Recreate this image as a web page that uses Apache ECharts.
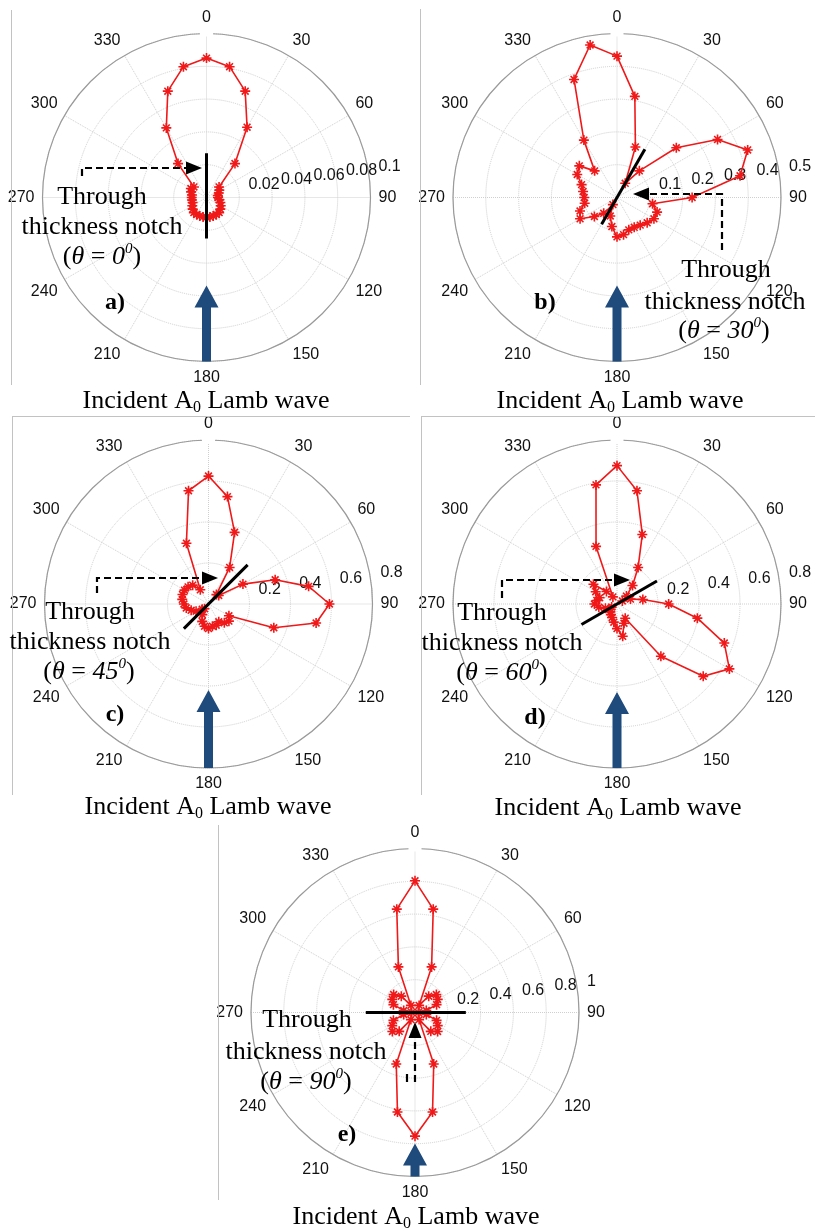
<!DOCTYPE html>
<html>
<head>
<meta charset="utf-8">
<script src="https://cdn.jsdelivr.net/npm/echarts@6/dist/echarts.min.js"></script>
<style>
  html, body { margin: 0; padding: 0; background: #fff; }
  #chart { width: 815px; height: 1232px; }
</style>
</head>
<body>
<div id="chart"></div>
<script>
// Measurement directions (degrees, clockwise from the top)
const angles = [0, 10, 20, 30, 40, 50, 60, 70, 80, 90, 100, 110, 120, 130, 140, 150, 160, 170,
                180, 190, 200, 210, 220, 230, 240, 250, 260, 270, 280, 290, 300, 310, 320, 330, 340, 350];

// Scattered A0 amplitude for each notch orientation
const valuesA = [0.085, 0.081, 0.069, 0.0495, 0.027, 0.010, 0.009, 0.008, 0.007, 0.007, 0.008, 0.009,
                 0.010, 0.011, 0.012, 0.012, 0.012, 0.012, 0.012, 0.012, 0.012, 0.012, 0.012, 0.011,
                 0.010, 0.009, 0.009, 0.009, 0.009, 0.010, 0.011, 0.010, 0.027, 0.049, 0.069, 0.081];
const valuesB = [0.431, 0.313, 0.164, 0.05, 0.106, 0.236, 0.354, 0.424, 0.381, 0.229, 0.11, 0.13,
                 0.13, 0.12, 0.11, 0.105, 0.105, 0.115, 0.12, 0.09, 0.06, 0.025, 0.063, 0.09,
                 0.13, 0.12, 0.10, 0.10, 0.105, 0.115, 0.14, 0.15, 0.106, 0.202, 0.383, 0.472];
const valuesC = [0.624, 0.532, 0.372, 0.206, 0.06, 0.065, 0.194, 0.346, 0.496, 0.59, 0.533, 0.339,
                 0.115, 0.13, 0.12, 0.10, 0.11, 0.11, 0.12, 0.11, 0.09, 0.06, 0.03, 0.04,
                 0.07, 0.09, 0.11, 0.12, 0.13, 0.135, 0.135, 0.13, 0.12, 0.08, 0.315, 0.561];
const valuesD = [0.675, 0.561, 0.361, 0.206, 0.118, 0.06, 0.03, 0.07, 0.128, 0.252, 0.398, 0.557,
                 0.633, 0.549, 0.333, 0.08, 0.10, 0.16, 0.12, 0.09, 0.07, 0.06, 0.05, 0.04,
                 0.03, 0.06, 0.09, 0.11, 0.10, 0.09, 0.12, 0.15, 0.08, 0.04, 0.299, 0.59];
const valuesE = [0.803, 0.64, 0.296, 0.05, 0.13, 0.17, 0.16, 0.14, 0.07, 0.02, 0.07, 0.14,
                 0.16, 0.18, 0.15, 0.05, 0.334, 0.616, 0.754, 0.616, 0.334, 0.05, 0.15, 0.18,
                 0.16, 0.14, 0.07, 0.02, 0.07, 0.14, 0.16, 0.17, 0.13, 0.05, 0.296, 0.64];

// Radial tick values and their labels
const ticksA = [0.02, 0.04, 0.06, 0.08, 0.1];
const tickLabelsA = ['0.02', '0.04', '0.06', '0.08', '0.1'];
const ticksB = [0.1, 0.2, 0.3, 0.4, 0.5];
const tickLabelsB = ['0.1', '0.2', '0.3', '0.4', '0.5'];
const ticksC = [0.2, 0.4, 0.6, 0.8];
const tickLabelsC = ['0.2', '0.4', '0.6', '0.8'];
const ticksD = [0.2, 0.4, 0.6, 0.8];
const tickLabelsD = ['0.2', '0.4', '0.6', '0.8'];
const ticksE = [0.2, 0.4, 0.6, 0.8, 1];
const tickLabelsE = ['0.2', '0.4', '0.6', '0.8', '1'];

// Angular ticks
const angleTicks = [0, 30, 60, 90, 120, 150, 180, 210, 240, 270, 300, 330];
const angleLabels = ['0', '30', '60', '90', '120', '150', '180', '210', '240', '270', '300', '330'];

// Notch orientation and the radial extent of the notch line (both ends)
const notchAngles = [0, 30, 45, 60, 90];
const notchA = [0.027, 0.025];
const notchB = [0.17, 0.094];
const notchC = [0.27, 0.17];
const notchD = [0.225, 0.2];
const notchE = [0.31, 0.3];

const SANS = "'Liberation Sans', Arial, sans-serif";
const SERIF = "'Liberation Serif', 'Times New Roman', serif";
const RED = '#f01818';
const BLUE = '#1f4a7c';
const R = 164;
const TICK_LABEL_DIR = 82;

const panels = [
  { values: valuesA, ticks: ticksA, tickLabels: tickLabelsA, rmax: 0.1, rinc: 0.02, notch: notchA, theta: notchAngles[0], cx: 206.5, cy: 197.5 },
  { values: valuesB, ticks: ticksB, tickLabels: tickLabelsB, rmax: 0.5, rinc: 0.1, notch: notchB, theta: notchAngles[1], cx: 617, cy: 197.5 },
  { values: valuesC, ticks: ticksC, tickLabels: tickLabelsC, rmax: 0.8, rinc: 0.2, notch: notchC, theta: notchAngles[2], cx: 208.5, cy: 604 },
  { values: valuesD, ticks: ticksD, tickLabels: tickLabelsD, rmax: 0.8, rinc: 0.2, notch: notchD, theta: notchAngles[3], cx: 617, cy: 604 },
  { values: valuesE, ticks: ticksE, tickLabels: tickLabelsE, rmax: 1, rinc: 0.2, notch: notchE, theta: notchAngles[4], cx: 415, cy: 1012.5 }
];

// Annotation layout for each panel
const notes = [
  { tag: 'a)', tagPos: [115, 303], text: [[102, 197], [102, 227], [102, 257]], dash: [[82, 176], [82, 168], [186, 168]], tip: [202, 168], dir: 'right', cap: [206, 401], arrowTip: 88 },
  { tag: 'b)', tagPos: [545, 303], text: [[726, 270], [725, 302], [724, 331]], dash: [[722, 250], [722, 194], [649, 194]], tip: [633, 194], dir: 'left', cap: [620, 401], arrowTip: 88 },
  { tag: 'c)', tagPos: [115, 715], text: [[90, 612], [90, 642], [89, 672]], dash: [[97, 593], [97, 578], [202, 578]], tip: [218, 578], dir: 'right', cap: [208, 807], arrowTip: 86 },
  { tag: 'd)', tagPos: [535, 718], text: [[502, 613], [502, 643], [502, 673]], dash: [[502, 598], [502, 580], [615, 580]], tip: [630, 580], dir: 'right', cap: [618, 808], arrowTip: 88 },
  { tag: 'e)', tagPos: [347, 1135], text: [[307, 1020], [306, 1052], [306, 1082]], dash: [[415, 1082], [415, 1037]], extra: [[407, 1074], [407, 1082]], tip: [415, 1022], dir: 'up', cap: [416, 1217], arrowTip: 131 }
];

const asterisk = 'path://M5 0V10M0 5H10M1.6 1.6L8.4 8.4M8.4 1.6L1.6 8.4';

const polar = panels.map(p => ({ center: [p.cx, p.cy], radius: R }));

const angleAxis = panels.map((p, i) => ({
  polarIndex: i,
  type: 'value',
  min: 0,
  max: 360,
  interval: 30,
  startAngle: 90,
  clockwise: true,
  axisLine: { lineStyle: { color: '#9a9a9a', width: 1.2 } },
  axisTick: { show: false },
  axisLabel: {
    margin: 8,
    color: '#111',
    fontSize: 16,
    fontFamily: SANS,
    formatter: v => { const k = angleTicks.indexOf(v); return k < 0 ? '' : angleLabels[k]; }
  },
  splitLine: { lineStyle: { color: '#cfcfcf', type: 'dotted', width: 1 } }
}));

const radiusAxis = panels.map((p, i) => ({
  polarIndex: i,
  type: 'value',
  min: 0,
  max: p.rmax,
  interval: p.rinc,
  axisLine: { show: false },
  axisTick: { show: false },
  axisLabel: { show: false },
  splitLine: { lineStyle: { color: '#cfcfcf', type: 'dotted', width: 1 } }
}));

const series = [];
panels.forEach((p, i) => {
  // radial tick labels, laid along a direction just above the 90 spoke
  series.push({
    type: 'scatter', coordinateSystem: 'polar', polarIndex: i, z: 2, silent: true,
    symbolSize: 1, itemStyle: { color: 'transparent', opacity: 1 },
    data: p.ticks.map((t, k) => ({ value: [t, TICK_LABEL_DIR], name: p.tickLabels[k] })),
    label: {
      show: true, formatter: '{b}', position: [10, 0], align: 'left', verticalAlign: 'bottom',
      fontSize: 16, color: '#111', opacity: 1, fontFamily: SANS
    }
  });
  // scattered-wave amplitude pattern (closed loop)
  const pts = angles.map((a, k) => [p.values[k], a]);
  pts.push({ value: [p.values[0], 360], symbol: 'none' });
  series.push({
    type: 'line', coordinateSystem: 'polar', polarIndex: i, z: 3, silent: true,
    data: pts,
    symbol: asterisk, symbolSize: 10, showAllSymbol: true,
    lineStyle: { color: RED, width: 1.6 },
    itemStyle: { color: RED, borderColor: RED, borderWidth: 1.6 }
  });
  // through-thickness notch
  series.push({
    type: 'line', coordinateSystem: 'polar', polarIndex: i, z: 5, silent: true,
    symbol: 'none',
    data: [[p.notch[0], p.theta], [p.notch[1], p.theta + 180]],
    lineStyle: { color: '#000', width: 3 }
  });
});

// Annotation graphics
const g = [];
const frame = [
  [11.5, 10, 11.5, 385], [420.5, 9, 420.5, 385],
  [12, 416.5, 410, 416.5], [12.5, 416, 12.5, 795],
  [421, 416.5, 815, 416.5], [421.5, 416, 421.5, 795],
  [218.5, 825, 218.5, 1200]
];
frame.forEach(f => g.push({ type: 'line', z: 10, shape: { x1: f[0], y1: f[1], x2: f[2], y2: f[3] }, style: { stroke: '#c2c2c2', lineWidth: 1 } }));

const plainText = (x, y, text) => ({
  type: 'text', x, y, z: 12,
  style: { text, fill: '#000', font: `26px ${SERIF}`, align: 'center', verticalAlign: 'middle' }
});

panels.forEach((p, i) => {
  const n = notes[i];
  // small break in the outer ring next to the 0 label
  g.push({ type: 'rect', z: 10, shape: { x: p.cx - 6.5, y: p.cy - R - 3, width: 13, height: 6 }, style: { fill: '#fff' } });

  // incident wave arrow
  const tipY = p.cy + n.arrowTip, baseY = p.cy + R, headY = tipY + 22;
  g.push({
    type: 'polygon', z: 11,
    shape: { points: [[p.cx - 4.5, baseY], [p.cx - 4.5, headY], [p.cx - 12, headY], [p.cx, tipY], [p.cx + 12, headY], [p.cx + 4.5, headY], [p.cx + 4.5, baseY]] },
    style: { fill: BLUE }
  });

  // dashed leader with arrow head
  g.push({ type: 'polyline', z: 11, shape: { points: n.dash }, style: { stroke: '#000', lineWidth: 2.2, lineDash: [7, 4], fill: null } });
  if (n.extra) g.push({ type: 'polyline', z: 11, shape: { points: n.extra }, style: { stroke: '#000', lineWidth: 2.2, fill: null } });
  const [tx, ty] = n.tip;
  let head;
  if (n.dir === 'right') head = [[tx, ty], [tx - 16, ty - 6.5], [tx - 16, ty + 6.5]];
  else if (n.dir === 'left') head = [[tx, ty], [tx + 16, ty - 6.5], [tx + 16, ty + 6.5]];
  else head = [[tx, ty], [tx - 6.5, ty + 16], [tx + 6.5, ty + 16]];
  g.push({ type: 'polygon', z: 11, shape: { points: head }, style: { fill: '#000' } });

  // notch caption
  g.push(plainText(n.text[0][0], n.text[0][1], 'Through'));
  g.push(plainText(n.text[1][0], n.text[1][1], 'thickness notch'));
  const base = { fontFamily: SERIF, fontSize: 26, lineHeight: 30, fill: '#000', verticalAlign: 'middle' };
  g.push({
    type: 'text', x: n.text[2][0], y: n.text[2][1], z: 12,
    style: {
      text: '{n|(}{i|θ}{n| = }{i|' + p.theta + '}{s|0}{n|)}',
      align: 'center', verticalAlign: 'middle', fill: '#000',
      rich: {
        n: base,
        i: Object.assign({}, base, { fontStyle: 'italic' }),
        s: { fontFamily: SERIF, fontSize: 15, lineHeight: 15, fontStyle: 'italic', fill: '#000', verticalAlign: 'top' }
      }
    }
  });

  // panel tag
  g.push({
    type: 'text', x: n.tagPos[0], y: n.tagPos[1], z: 12,
    style: { text: n.tag, fill: '#000', font: `bold 24px ${SERIF}`, align: 'center', verticalAlign: 'middle' }
  });

  // incident wave caption
  g.push({
    type: 'text', x: n.cap[0], y: n.cap[1], z: 12,
    style: {
      text: '{n|Incident A}{s|0}{n| Lamb wave}',
      align: 'center', verticalAlign: 'middle', fill: '#000',
      rich: {
        n: base,
        s: { fontFamily: SERIF, fontSize: 16, lineHeight: 16, fill: '#000', verticalAlign: 'bottom' }
      }
    }
  });
});

const chart = echarts.init(document.getElementById('chart'));
chart.setOption({
  animation: false,
  backgroundColor: '#fff',
  polar,
  angleAxis,
  radiusAxis,
  series,
  graphic: { elements: g }
});
</script>
</body>
</html>
